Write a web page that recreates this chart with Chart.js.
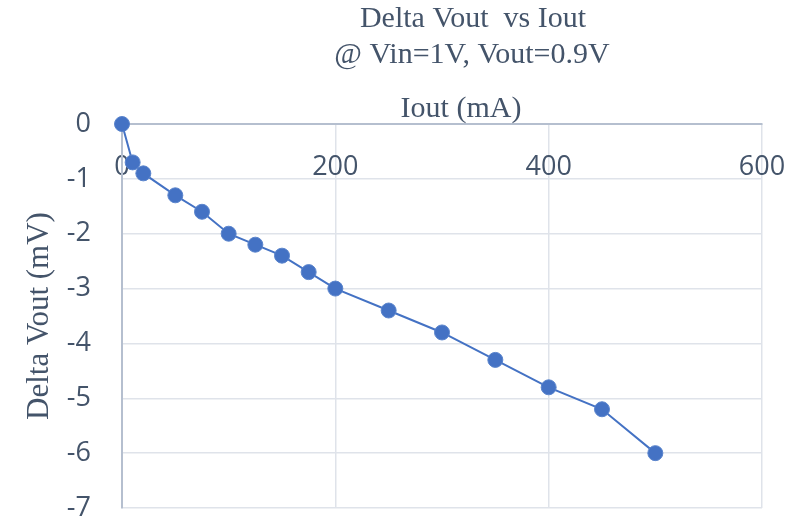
<!DOCTYPE html>
<html>
<head>
<meta charset="utf-8">
<script src="https://cdn.jsdelivr.net/npm/chart.js@4/dist/chart.umd.min.js"></script>
<style>
  html, body { margin: 0; padding: 0; background: #ffffff; }
  #wrap { width: 799px; height: 521px; }
</style>
</head>
<body>
<div id="wrap"><canvas id="chart" width="799" height="521"></canvas></div>
<script>
// Load-regulation measurement: output current (mA) vs change in output voltage (mV)
const iout = [0, 10, 20, 50, 75, 100, 125, 150, 175, 200, 250, 300, 350, 400, 450, 500];
const deltaVout = [0, -0.7, -0.9, -1.3, -1.6, -2.0, -2.2, -2.4, -2.7, -3.0, -3.4, -3.8, -4.3, -4.8, -5.2, -6.0];

const titleLines = ['Delta Vout  vs Iout', '@ Vin=1V, Vout=0.9V'];
const xAxisTitle = 'Iout (mA)';
const yAxisTitle = 'Delta Vout (mV)';

const xTicks = { min: 0, max: 600, step: 200 };
const yTicks = { min: -7, max: 0, step: 1 };

const TEXT = '#44546A';
const SERIF = '"Liberation Serif", "Times New Roman", serif';
const SANS = '"Open Sans", "Liberation Sans", sans-serif';

const points = iout.map((x, i) => ({ x: x, y: deltaVout[i] }));

// Headings drawn above the plot (chart title and the x-axis caption)
const headings = {
  id: 'headings',
  afterDraw(chart) {
    const ctx = chart.ctx;
    ctx.save();
    ctx.fillStyle = TEXT;
    ctx.textAlign = 'center';
    ctx.textBaseline = 'alphabetic';
    ctx.font = '30px ' + SERIF;
    ctx.fillText(titleLines[0], 473, 27);
    ctx.fillText(titleLines[1], 472, 63);
    ctx.fillText(xAxisTitle, 461, 117);
    ctx.restore();
  }
};

// Keep the plot area fixed by the layout padding alone
function noScalePadding(scale) {
  scale.paddingTop = 0;
  scale.paddingBottom = 0;
  scale.paddingLeft = 0;
  scale.paddingRight = 0;
}

new Chart(document.getElementById('chart'), {
  type: 'scatter',
  data: {
    datasets: [{
      data: points,
      showLine: true,
      borderColor: '#4472C4',
      borderWidth: 2,
      backgroundColor: '#4472C4',
      pointBackgroundColor: '#4472C4',
      pointBorderColor: '#5a84cc',
      pointBorderWidth: 1,
      pointRadius: 7.5,
      pointHoverRadius: 7.5,
      clip: false
    }]
  },
  options: {
    responsive: false,
    animation: false,
    events: [],
    layout: { padding: { top: 124, right: 37, bottom: 13, left: 0 } },
    plugins: {
      legend: { display: false },
      tooltip: { enabled: false },
      title: { display: false }
    },
    scales: {
      x: {
        type: 'linear',
        position: { y: 0 },
        min: xTicks.min,
        max: xTicks.max,
        ticks: {
          stepSize: xTicks.step,
          color: TEXT,
          font: { family: SANS, size: 27 },
          padding: 27,
          maxRotation: 0
        },
        grid: { color: '#dfe3ea', lineWidth: 1.5, drawTicks: false },
        border: { display: true, color: '#b5bfcf', width: 2 },
        afterFit(scale) { noScalePadding(scale); }
      },
      y: {
        type: 'linear',
        position: 'left',
        min: yTicks.min,
        max: yTicks.max,
        ticks: {
          stepSize: yTicks.step,
          color: TEXT,
          font: { family: SANS, size: 27 },
          padding: 31
        },
        grid: { color: '#dfe3ea', lineWidth: 1.5, drawTicks: false },
        border: { display: true, color: '#b5bfcf', width: 2 },
        title: {
          display: true,
          text: yAxisTitle,
          color: TEXT,
          font: { family: SERIF, size: 31 },
          padding: { top: 21, bottom: 0 }
        },
        afterFit(scale) { scale.width = 122; noScalePadding(scale); }
      }
    }
  },
  plugins: [headings]
});
</script>
</body>
</html>
